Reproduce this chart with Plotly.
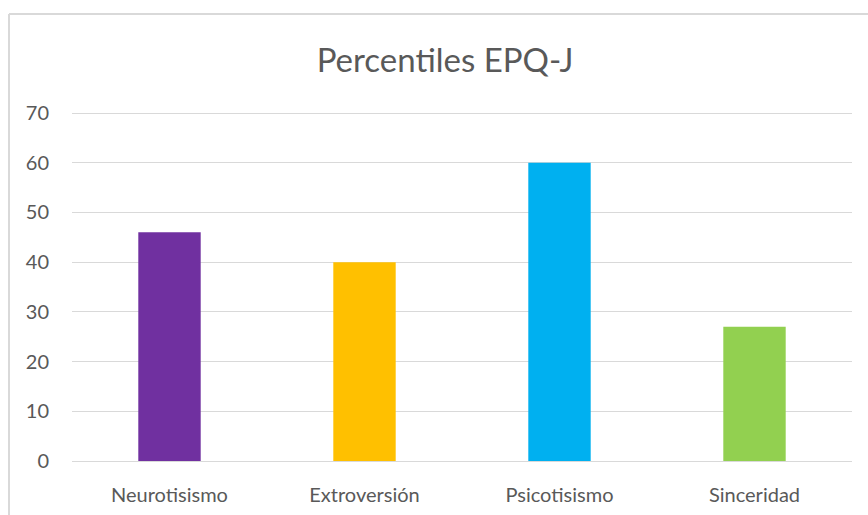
import plotly.graph_objects as go

categories = ["Neurotisismo", "Extroversión", "Psicotisismo", "Sinceridad"]
values = [46, 40, 60, 27]
colors = ["#7030A0", "#FFC000", "#00B0F0", "#92D050"]
y_ticks = [0, 10, 20, 30, 40, 50, 60, 70]

W, H = 868, 515
L, R, T, B = 72, 16, 110, 54
pw, ph = W - L - R, H - T - B
y_top = 70 * ph / (H - B - 113)

fig = go.Figure(go.Bar(x=categories, y=values, marker=dict(color=colors, line=dict(width=0)),
                       width=0.32, hoverinfo="x+y"))

def px_x(x):
    return (x - L) / pw

def px_y(y):
    return (H - B - y) / ph

fig.update_layout(
    width=W, height=H,
    margin=dict(l=L, r=R, t=T, b=B),
    paper_bgcolor="white", plot_bgcolor="white",
    font=dict(family="Lato, 'Open Sans', sans-serif", color="#595959", size=20),
    title=dict(text="Percentiles EPQ-J", x=445 / W, xanchor="center", y=1 - 60 / H, yanchor="middle",
               font=dict(size=33, color="#595959", family="Lato, sans-serif")),
    xaxis=dict(showgrid=False, showline=False, ticks="", ticklabelstandoff=20, automargin=False,
               tickfont=dict(size=20, color="#595959")),
    yaxis=dict(range=[0, y_top], tickvals=y_ticks, showgrid=True, gridcolor="#D9D9D9", gridwidth=1,
               zeroline=True, zerolinecolor="#D9D9D9", zerolinewidth=1, showline=False, automargin=False,
               ticks="", ticklabelstandoff=22, tickfont=dict(size=20, color="#595959")),
    showlegend=False,
    shapes=[
        dict(type="line", xref="paper", yref="paper", x0=px_x(9), x1=px_x(W + 5), y0=px_y(14), y1=px_y(14),
             line=dict(color="#D9D9D9", width=2)),
        dict(type="line", xref="paper", yref="paper", x0=px_x(9), x1=px_x(9), y0=px_y(14), y1=px_y(H + 5),
             line=dict(color="#D9D9D9", width=2)),
    ],
)

fig.write_html("out.html")
